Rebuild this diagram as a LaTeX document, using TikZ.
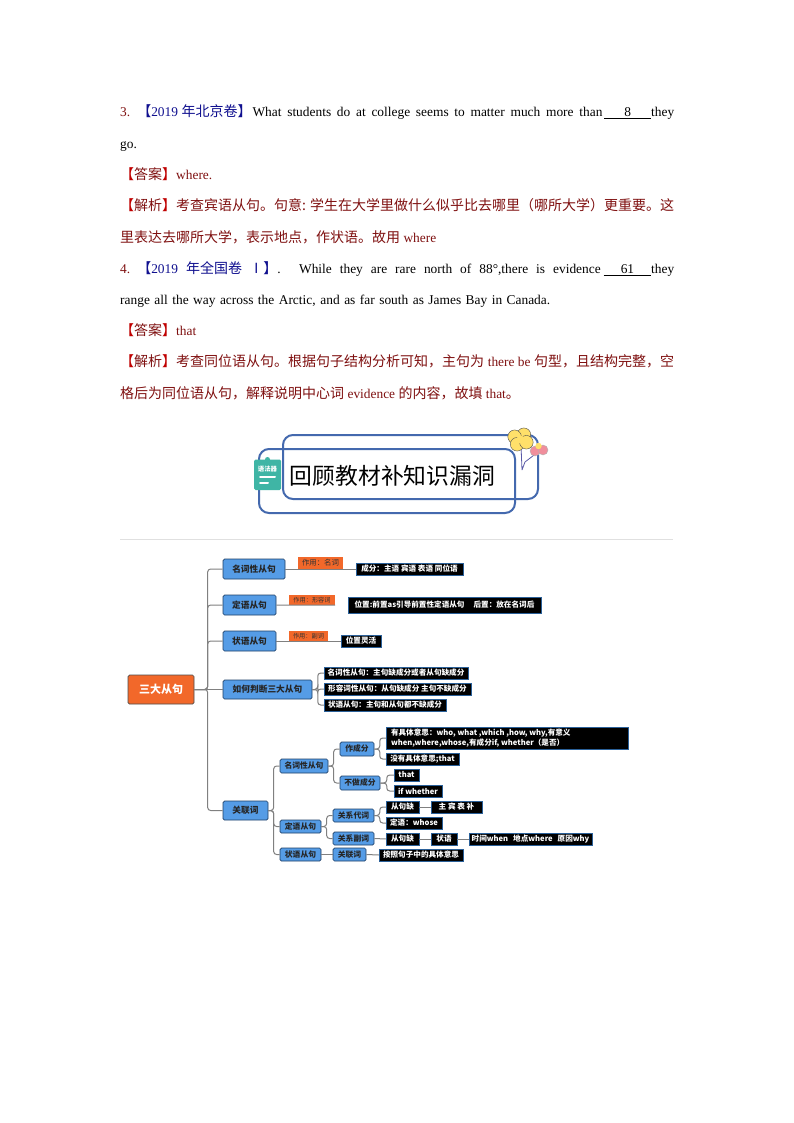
\documentclass[tikz,border=0pt]{standalone}
\usepackage{fontspec}
\setmainfont{Liberation Serif}
\newfontfamily\cjk{Noto Sans CJK SC}
\definecolor{ansred}{HTML}{7F1010}
\definecolor{hdblue}{HTML}{10108F}
\definecolor{brkred}{HTML}{C00000}
\definecolor{nodeblue}{HTML}{559CE6}
\definecolor{nodeedge}{HTML}{1F3F66}
\definecolor{tagorange}{HTML}{F2682A}
\definecolor{blackedge}{HTML}{2A6099}
\definecolor{connGray}{HTML}{808080}
\definecolor{banblue}{HTML}{4469AE}
\definecolor{iconteal}{HTML}{3FB5A5}
\definecolor{petal}{HTML}{FFE06A}
\definecolor{petalpink}{HTML}{F08E9C}
\newcommand{\zh}[1]{{\cjk\fontsize{14}{15}\selectfont #1}}
\newcommand{\blk}[2]{\underline{\hspace{#1}#2\hspace{#1}}}
\tikzset{
 x=1pt,y=-1pt,
 tline/.style={anchor=base west,inner sep=0pt,font=\fontsize{13.4}{15}\selectfont,text=black},
 hubox/.style={draw=nodeedge,line width=.7pt,fill=nodeblue,rounded corners=1.5pt,inner sep=0pt,text=black!85,font=\cjk\bfseries\fontsize{7.8}{9}\selectfont},
 hubig/.style={hubox,font=\cjk\bfseries\fontsize{8.7}{10}\selectfont},
 rootbox/.style={draw=black!70,line width=.7pt,fill=tagorange,rounded corners=1.5pt,inner sep=0pt,text=white,font=\cjk\bfseries\fontsize{11}{13}\selectfont},
 tagbox/.style={fill=tagorange,inner sep=0pt,text=black!80,font=\cjk\fontsize{6.2}{8}\selectfont},
 blackbox/.style={draw=blackedge,line width=.5pt,fill=black,inner sep=0pt,text=white,font=\cjk\bfseries\fontsize{7.6}{9}\selectfont},
 conn/.style={draw=connGray,line width=1pt,rounded corners=3pt},
 ban/.style={draw=banblue,line width=2pt,rounded corners=10pt},
}
\newcommand{\bx}[7]{\node[#2,minimum width={(#5-#3)*1pt},minimum height={(#6-#4)*1pt}] (#1) at ({(#3+#5)/2},{(#4+#6)/2}) {#7};}
\newcommand{\elbow}[3]{\draw[conn] (#1.east) -| ([xshift=-#3pt]#2.west) -- (#2.west);}
\begin{document}
\begin{tikzpicture}
\useasboundingbox (0,0) rectangle (794,1123);
\fill[white] (0,0) rectangle (794,1123);
% text lines
\node[tline] (l1) at (120,116.5) {\hbox to 554pt{\textcolor{ansred}{3.}\hspace{7pt}\textcolor{hdblue}{\zh{【}2019\hspace{3.5pt}\zh{年北京卷】}}\hspace{1pt}What students do at college seems to matter much more than\hspace{2pt}\blk{20pt}{8}they}};
\node[tline] (l2) at (120,148.5) {go.};
\node[tline,text=ansred] (l3) at (120,179.5) {\textcolor{brkred}{\zh{【}}\zh{答案}\textcolor{brkred}{\zh{】}}where.};
\node[tline,text=ansred] (l4) at (120,210.5) {\hbox to 554pt{\textcolor{brkred}{\zh{【}}\zh{解析}\textcolor{brkred}{\zh{】}}\zh{考查宾语从句。句意:}\hfil\zh{学生在大学里做什么似乎比去哪里（哪所大学）更重要。这}}};
\node[tline,text=ansred] (l5) at (120,242.5) {\zh{里表达去哪所大学，表示地点，作状语。故用} where};
\node[tline] (l6) at (120,273.5) {\hbox to 554pt{\textcolor{ansred}{4.}\hspace{7pt}\textcolor{hdblue}{\zh{【}2019 \zh{年全国卷 Ⅰ】}}. While they are rare north of 88°,there is evidence\hspace{3pt}\blk{17pt}{61}they}};
\node[tline] (l7) at (120,304.5) {\hbox to 430pt{range all the way across the Arctic, and as far south as James Bay in Canada.}};
\node[tline,text=ansred] (l8) at (120,335.5) {\textcolor{brkred}{\zh{【}}\zh{答案}\textcolor{brkred}{\zh{】}}that};
\node[tline,text=ansred] (l9) at (120,366.5) {\hbox to 554pt{\textcolor{brkred}{\zh{【}}\zh{解析}\textcolor{brkred}{\zh{】}}\zh{考查同位语从句。根据句子结构分析可知，主句为}\hfil\,there be\,\hfil\zh{句型，且结构完整，空}}};
\node[tline,text=ansred] (l10) at (120,398.5) {\zh{格后为同位语从句，解释说明中心词} evidence \zh{的内容，故填} that\zh{。}};
% banner
\draw[ban] (283,435) rectangle (538,499);
\draw[ban] (259,449) rectangle (515,513);
\draw[draw=gray!70!blue,line width=.8pt] (522,470) -- (521,445) (522,470) -- (525,462) -- (538,452);
\foreach \a in {60,150,240,330}{\fill[fill=petal,draw=gray!60!black,line width=.4pt] ({520.5+6.8*cos(\a)},{439.5-5.5*sin(\a)}) circle (6.8);}
\fill[fill=petal] (520.5,439.5) circle (4);
\fill[fill=petalpink,draw=gray!60,line width=.4pt] (535,451) circle (5);
\fill[fill=petalpink,draw=gray!60,line width=.4pt] (543,450) circle (5);
\fill[fill=petal] (538.5,446) circle (3.2);
\node[inner sep=0pt,font=\cjk\fontsize{22.8}{26}\selectfont] (title) at (392.5,476) {回顾教材补知识漏洞};
\fill[iconteal,rounded corners=1.5pt] (254,459.5) rectangle (281,490);
\fill[iconteal] (267.5,459.5) circle (2.5);
\node[inner sep=0pt,text=white,font=\cjk\bfseries\fontsize{6.4}{7}\selectfont] (icontext) at (267.5,469) {语法器};
\draw[white,line width=2pt,line cap=round] (260,476.5) -- (275,476.5) (260,482.5) -- (268,482.5);
\draw[draw=black!12,line width=1pt] (120,539) -- (673,539);
% mind map nodes
\bx{root}{rootbox}{128}{675}{194}{704}{三大从句}
\bx{ming}{hubig}{223}{559}{285}{579}{名词性从句}
\bx{mingtag}{tagbox,font=\cjk\fontsize{7.4}{9}\selectfont}{298}{557}{343}{569}{作用：名词}
\bx{mingb}{blackbox}{356}{563}{463}{575}{成分：主语 宾语 表语 同位语}
\bx{ding}{hubig}{223}{595}{276}{615}{定语从句}
\bx{dingtag}{tagbox}{289}{595}{335}{605}{作用：形容词}
\bx{dingb}{blackbox}{348}{597}{541}{613}{位置:前置as引导前置性定语从句\hspace{9pt}后置：放在名词后}
\bx{zhuang}{hubig}{223}{631}{276}{651}{状语从句}
\bx{zhuangtag}{tagbox}{289}{631}{328}{641}{作用：副词}
\bx{zhuangb}{blackbox}{341}{635}{381}{647}{位置灵活}
\bx{pan}{hubig}{223}{680}{312}{699}{如何判断三大从句}
\bx{pa}{blackbox}{324}{667}{468}{679}{名词性从句：主句缺成分或者从句缺成分}
\bx{pb}{blackbox}{324}{683}{471}{695}{形容词性从句：从句缺成分 主句不缺成分}
\bx{pc}{blackbox}{324}{699}{446}{711}{状语从句：主句和从句都不缺成分}
\bx{guan}{hubig}{223}{801}{268}{820}{关联词}
\bx{gm}{hubox}{280}{759}{328}{773}{名词性从句}
\bx{gmz}{hubox}{340}{742}{374}{756}{作成分}
\bx{gmza}{blackbox,align=left,font=\cjk\bfseries\fontsize{7.6}{9.6}\selectfont}{386}{727}{628}{749}{\hbox to 232pt{有具体意思：who, what ,which ,how, why,有意义\hss}\\ \hbox to 232pt{when,where,whose,有成分if, whether（是否）\hss}}
\bx{gmzb}{blackbox}{386}{753}{459}{765}{没有具体意思;that}
\bx{gmb}{hubox}{340}{776}{380}{790}{不做成分}
\bx{gmba}{blackbox}{394}{769}{419}{781}{that}
\bx{gmbb}{blackbox}{394}{785}{442}{797}{if whether}
\bx{gd}{hubox}{280}{820}{321}{833}{定语从句}
\bx{gdd}{hubox}{333}{809}{374}{822}{关系代词}
\bx{gdda}{blackbox}{386}{801}{419}{813}{从句缺}
\bx{gddb}{blackbox}{431}{801}{482}{813}{主 宾 表 补}
\bx{gddc}{blackbox}{386}{817}{442}{829}{定语：whose}
\bx{gdf}{hubox}{333}{832}{374}{845}{关系副词}
\bx{gdfa}{blackbox}{386}{833}{419}{845}{从句缺}
\bx{gdfb}{blackbox}{431}{833}{457}{845}{状语}
\bx{gdfc}{blackbox}{469}{833}{592}{845}{时间when\hspace{5pt}地点where\hspace{5pt}原因why}
\bx{gz}{hubox}{280}{848}{321}{861}{状语从句}
\bx{gzg}{hubox}{333}{848}{366}{861}{关联词}
\bx{gzb}{blackbox}{379}{849}{463}{861}{按照句子中的具体意思}
% connectors
\elbow{root}{ming}{15}
\elbow{root}{ding}{15}
\elbow{root}{zhuang}{15}
\draw[conn] (root.east) -- (pan.west);
\elbow{root}{guan}{15}
\draw[conn] (ming.east) -- (mingb.west);
\draw[conn] (ding.east) -- (dingtag.south east);
\draw[conn] (zhuang.east) -- (zhuangb.west);
\elbow{pan}{pa}{6}
\elbow{pan}{pb}{6}
\elbow{pan}{pc}{6}
\elbow{guan}{gm}{6}
\elbow{guan}{gd}{6}
\elbow{guan}{gz}{6}
\elbow{gm}{gmz}{6}
\elbow{gm}{gmb}{6}
\elbow{gmz}{gmza}{6}
\elbow{gmz}{gmzb}{6}
\elbow{gmb}{gmba}{7}
\elbow{gmb}{gmbb}{7}
\elbow{gd}{gdd}{6}
\elbow{gd}{gdf}{6}
\elbow{gdd}{gdda}{6}
\elbow{gdd}{gddc}{6}
\draw[conn] (gdda.east) -- (gddb.west);
\draw[conn] (gdf.east) -- (gdfa.west);
\draw[conn] (gdfa.east) -- (gdfb.west);
\draw[conn] (gdfb.east) -- (gdfc.west);
\draw[conn] (gz.east) -- (gzg.west);
\draw[conn] (gzg.east) -- (gzb.west);
\end{tikzpicture}
\end{document}
